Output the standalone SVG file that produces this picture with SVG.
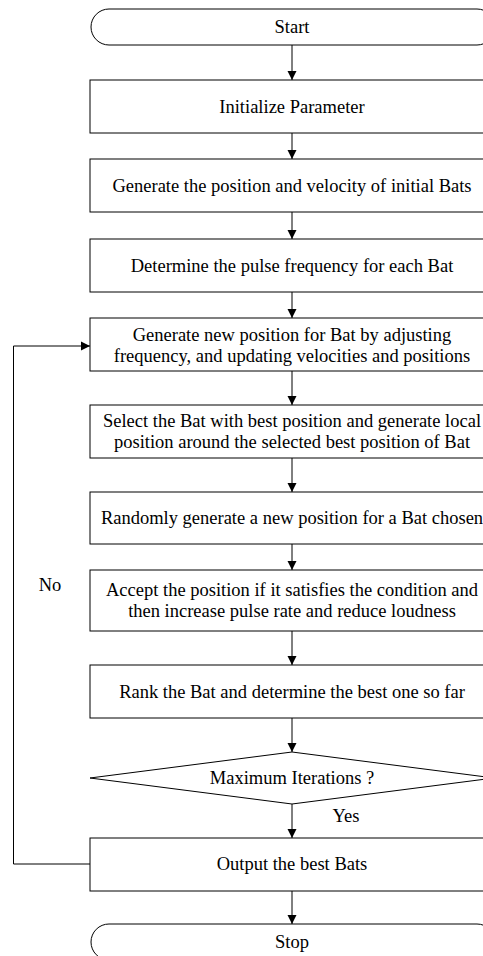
<svg xmlns="http://www.w3.org/2000/svg" width="483" height="956" viewBox="0 0 483 956">
<defs>
<style>
.n{fill:#fff;stroke:#000;stroke-width:1}
.t{font-family:"Liberation Serif","Times New Roman",serif;font-size:18.5px;fill:#000;text-anchor:middle;dominant-baseline:central}
.c{fill:none;stroke:#000;stroke-width:1}
</style>
<marker id="ah" markerWidth="10" markerHeight="10" refX="9" refY="5" orient="auto" markerUnits="userSpaceOnUse">
<path d="M0,0.5 L9,5 L0,9.5 Z" fill="#000"/>
</marker>
</defs>
<rect width="483" height="956" fill="#fff"/>
<g id="connectors">
<path class="c" d="M292,45 V80" marker-end="url(#ah)"/>
<path class="c" d="M292,133 V159" marker-end="url(#ah)"/>
<path class="c" d="M292,212 V239" marker-end="url(#ah)"/>
<path class="c" d="M292,292 V318" marker-end="url(#ah)"/>
<path class="c" d="M292,371 V405" marker-end="url(#ah)"/>
<path class="c" d="M292,458 V492" marker-end="url(#ah)"/>
<path class="c" d="M292,544 V570" marker-end="url(#ah)"/>
<path class="c" d="M292,631 V665" marker-end="url(#ah)"/>
<path class="c" d="M292,718 V752" marker-end="url(#ah)"/>
<path class="c" d="M292,804 V838" marker-end="url(#ah)"/>
<path class="c" d="M292,891 V924" marker-end="url(#ah)"/>
<path class="c" d="M90,864 H13.5 V346 H90" marker-end="url(#ah)"/>
<text class="t" x="346" y="816">Yes</text>
<text class="t" x="50" y="585">No</text>
</g>
<g id="start"><rect class="n" x="91" y="9" width="404" height="36" rx="18"/><text class="t" x="292" y="27">Start</text></g>
<g id="init"><rect class="n" x="90" y="80" width="404" height="53"/><text class="t" x="292" y="107">Initialize Parameter</text></g>
<g id="gen"><rect class="n" x="90" y="159" width="404" height="53"/><text class="t" x="292" y="186">Generate the position and velocity of initial Bats</text></g>
<g id="det"><rect class="n" x="90" y="239" width="404" height="53"/><text class="t" x="292" y="266">Determine the pulse frequency for each Bat</text></g>
<g id="newpos"><rect class="n" x="90" y="318" width="404" height="53"/><text class="t" x="292" y="335">Generate new position for Bat by adjusting</text><text class="t" x="292" y="356">frequency, and updating velocities and positions</text></g>
<g id="select"><rect class="n" x="90" y="405" width="404" height="53"/><text class="t" x="292" y="421">Select the Bat with best position and generate local</text><text class="t" x="292" y="442">position around the selected best position of Bat</text></g>
<g id="random"><rect class="n" x="90" y="492" width="404" height="52"/><text class="t" x="292" y="518">Randomly generate a new position for a Bat chosen</text></g>
<g id="accept"><rect class="n" x="90" y="570" width="404" height="61"/><text class="t" x="292" y="590">Accept the position if it satisfies the condition and</text><text class="t" x="292" y="611">then increase pulse rate and reduce loudness</text></g>
<g id="rank"><rect class="n" x="90" y="665" width="404" height="53"/><text class="t" x="292" y="692">Rank the Bat and determine the best one so far</text></g>
<g id="decision"><polygon class="n" points="292,752 494,778 292,804 90,778"/><text class="t" x="292" y="778">Maximum Iterations ?</text></g>
<g id="output"><rect class="n" x="90" y="838" width="404" height="53"/><text class="t" x="292" y="864">Output the best Bats</text></g>
<g id="stop"><rect class="n" x="91" y="924" width="404" height="36" rx="18"/><text class="t" x="292" y="942">Stop</text></g>
</svg>
